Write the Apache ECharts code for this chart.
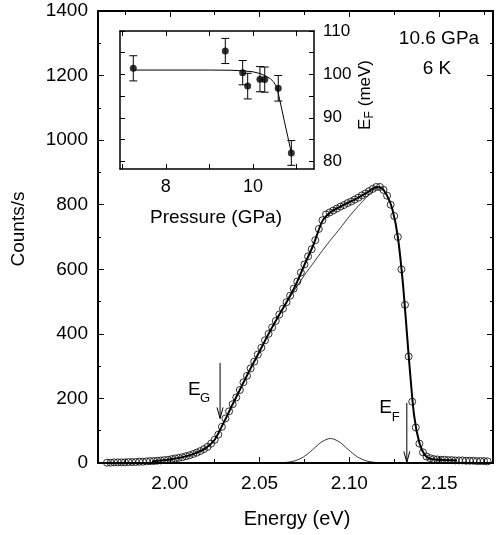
<!DOCTYPE html>
<html><head><meta charset="utf-8">
<script src="https://cdn.jsdelivr.net/npm/echarts@6/dist/echarts.min.js"></script>
<style>html,body{margin:0;padding:0;background:#fff}#c{width:496px;height:535px}</style>
</head><body><div id="c"></div>
<script>
// ---- main spectrum: measured points ----
const energy = [1.965,1.967,1.969,1.971,1.973,1.975,1.977,1.979,1.981,1.983,1.985,1.987,1.989,1.991,1.993,1.995,1.997,1.999,
2.001,2.003,2.005,2.007,2.009,2.011,2.013,2.015,2.017,2.019,2.021,2.023,2.025,2.027,2.029,2.031,2.033,2.035,2.037,2.039,
2.041,2.043,2.045,2.047,2.049,2.051,2.053,2.055,2.057,2.059,2.061,2.063,2.065,2.067,2.069,2.071,2.073,2.075,2.077,2.079,
2.081,2.083,2.085,2.087,2.089,2.091,2.093,2.095,2.097,2.099,2.101,2.103,2.105,2.107,2.109,2.111,2.113,2.115,2.117,2.119,
2.121,2.123,2.125,2.127,2.129,2.131,2.133,2.135,2.137,2.139,2.141,2.143,2.145,2.147,2.149,2.151,2.153,2.155,2.157,2.159,
2.161,2.163,2.165,2.167,2.169,2.171,2.173,2.175,2.177];
const counts = [1,1,2,2,2,2,3,3,3,4,4,5,6,6,7,8,9,10,
12,14,16,18,21,24,28,32,37,43,50,60,72,88,112,138,160,182,203,226,
250,270,293,314,336,357,380,400,420,440,460,478,498,518,540,562,590,615,640,662,
690,725,752,770,776,782,788,794,799,805,810,816,822,829,835,842,849,855,855,846,
828,800,765,700,600,490,330,190,110,60,33,20,15,12,11,10,10,9,9,8,
8,8,7,7,7,6,6,6,5];
// ---- full fit (thick line) ----
const fitEnergy = [1.99,2.0,2.01,2.015,2.02,2.025,2.03,2.035,2.04,2.045,2.05,2.055,2.06,2.065,2.07,2.075,2.08,2.085,2.09,2.095,2.10,2.105,2.11,2.115,2.118,2.121,2.124,2.127,2.130,2.133,2.136,2.139,2.142,2.145,2.15,2.16];
const fitCounts = [5,11,22,32,46,72,125,182,238,293,346,400,450,498,550,614,676,750,779,794,808,822,838,855,852,828,785,700,545,335,150,62,25,13,10,8];
// ---- fit without excitonic term (thin line) ----
const bareEnergy = [2.055,2.06,2.065,2.07,2.075,2.08,2.085,2.09,2.095,2.10,2.105,2.11,2.115,2.118];
const bareCounts = [400,450,497,540,582,620,658,694,728,764,796,826,852,853];
// ---- excitonic Gaussian (thin line) ----
const gaussEnergy = [2.052,2.0595,2.0645,2.0695,2.0745,2.0795,2.0845,2.0895,2.0945,2.0995,2.1045,2.1095,2.1145,2.1195,2.127];
const gaussCounts = [0,0.3,1.6,6.5,19,41,65,76,65,41,19,6.5,1.6,0.3,0];
// ---- arrows E_G, E_F ----
const arrowEnergy = [2.028, 2.132];
const arrowTop = [310, 186];
const arrowTip = [138, 2];
const arrowSub = ['G', 'F'];
// ---- inset: E_F vs pressure ----
const pressure = [7.255, 9.365, 9.764, 9.879, 10.16, 10.27, 10.58, 10.88];
const efValue = [101.4, 105.4, 100.4, 97.3, 98.9, 98.8, 96.8, 81.9];
const efErr = [2.9, 2.9, 2.8, 2.95, 2.9, 2.9, 2.95, 2.85];
const insetFitP = [7.255, 9.0, 9.5, 9.8, 10.0, 10.16, 10.3, 10.4, 10.47, 10.54, 10.58, 10.65, 10.72, 10.8, 10.88];
const insetFitE = [101.0, 101.0, 100.95, 100.8, 100.6, 100.2, 99.6, 99.0, 98.3, 97.2, 95.6, 92.5, 89.2, 85.6, 81.9];
// ---- ticks ----
const xMajor = [2.00, 2.05, 2.10, 2.15];
const xMinor = [1.975, 2.025, 2.075, 2.125, 2.175];
const insetXTicks = [7, 8, 9, 10, 11];
const insetXLabels = [8, 10];
const insetYTicks = [80, 85, 90, 95, 100, 105, 110];
const insetYLabels = [80, 90, 100, 110];

const FONT = '"Liberation Sans", Arial, sans-serif';
const BLACK = '#000';
const zip = (a, b) => a.map((v, i) => [v, b[i]]);

const mainGrid = {left: 98, top: 11, width: 395, height: 452};
const insetGrid = {left: 120, top: 31, width: 194, height: 138, show: true, backgroundColor: '#fff', borderWidth: 0, z: 5};

function xAx(grid, pos, ticks, len, showLine, labels, lw) {
  return {
    type: 'value', gridIndex: grid, position: pos,
    min: grid === 0 ? 1.96 : 6.95, max: grid === 0 ? 2.18 : 11.4,
    axisLine: {show: showLine, onZero: false, lineStyle: {color: BLACK, width: lw}},
    axisTick: {show: true, inside: true, length: len, customValues: ticks, lineStyle: {color: BLACK, width: 1}},
    axisLabel: labels ? {show: true, customValues: labels, color: BLACK, fontFamily: FONT, fontSize: grid === 0 ? 19 : 18, margin: grid === 0 ? 11 : 9,
      formatter: v => grid === 0 ? Number(v).toFixed(2) : String(v)} : {show: false},
    splitLine: {show: false}, z: grid === 1 ? 6 : 2
  };
}

const option = {
  animation: false,
  backgroundColor: '#fff',
  grid: [mainGrid, insetGrid],
  xAxis: [
    xAx(0, 'bottom', xMajor, 6, true, xMajor, 2),
    xAx(0, 'bottom', xMinor, 4, false, null, 2),
    xAx(0, 'top', xMajor, 6, true, null, 2),
    xAx(0, 'top', xMinor, 4, false, null, 2),
    xAx(1, 'bottom', insetXTicks, 5, true, insetXLabels, 1.5),
    xAx(1, 'top', insetXTicks, 5, true, null, 1.5)
  ],
  yAxis: [
    {type: 'value', gridIndex: 0, position: 'left', min: 0, max: 1400, interval: 200,
     axisLine: {show: true, onZero: false, lineStyle: {color: BLACK, width: 2}},
     axisTick: {inside: true, length: 6, lineStyle: {color: BLACK}},
     minorTick: {show: true, splitNumber: 2, length: 3, lineStyle: {color: BLACK}},
     axisLabel: {color: BLACK, fontFamily: FONT, fontSize: 19, margin: 10, formatter: v => String(v)},
     splitLine: {show: false}},
    {type: 'value', gridIndex: 0, position: 'right', min: 0, max: 1400, interval: 200,
     axisLine: {show: true, onZero: false, lineStyle: {color: BLACK, width: 2}},
     axisTick: {inside: true, length: 6, lineStyle: {color: BLACK}},
     minorTick: {show: true, splitNumber: 2, length: 3, lineStyle: {color: BLACK}},
     axisLabel: {show: false}, splitLine: {show: false}},
    {type: 'value', gridIndex: 1, position: 'right', min: 78.2, max: 110,
     axisLine: {show: true, onZero: false, lineStyle: {color: BLACK, width: 1.5}},
     axisTick: {inside: true, length: 5, customValues: insetYTicks, lineStyle: {color: BLACK}},
     axisLabel: {customValues: insetYLabels, color: BLACK, fontFamily: FONT, fontSize: 17, margin: 9, formatter: v => String(v)},
     splitLine: {show: false}, z: 6},
    {type: 'value', gridIndex: 1, position: 'left', min: 78.2, max: 110,
     axisLine: {show: true, onZero: false, lineStyle: {color: BLACK, width: 1.5}},
     axisTick: {inside: true, length: 5, customValues: insetYTicks, lineStyle: {color: BLACK}},
     axisLabel: {show: false}, splitLine: {show: false}, z: 6}
  ],
  series: [
    {type: 'line', name: 'bare', xAxisIndex: 0, yAxisIndex: 0, data: zip(bareEnergy, bareCounts), smooth: 0.2,
     showSymbol: false, lineStyle: {color: BLACK, width: 0.8}, z: 3},
    {type: 'line', name: 'gauss', xAxisIndex: 0, yAxisIndex: 0, data: zip(gaussEnergy, gaussCounts), smooth: 0.3,
     showSymbol: false, lineStyle: {color: BLACK, width: 0.8}, z: 3},
    {type: 'line', name: 'fit', xAxisIndex: 0, yAxisIndex: 0, data: zip(fitEnergy, fitCounts), smooth: 0.25,
     showSymbol: false, lineStyle: {color: BLACK, width: 2}, z: 4},
    {type: 'scatter', name: 'data', xAxisIndex: 0, yAxisIndex: 0, data: zip(energy, counts),
     symbol: 'circle', symbolSize: 7,
     itemStyle: {color: 'rgba(0,0,0,0)', borderColor: BLACK, borderWidth: 1}, z: 4},
    {type: 'custom', name: 'arrows', xAxisIndex: 0, yAxisIndex: 0,
     data: arrowEnergy.map((e, i) => [e, arrowTop[i], arrowTip[i], i]),
     encode: {x: 0, y: [1, 2]},
     renderItem: (params, api) => {
       const x = api.value(0), i = api.value(3);
       const p1 = api.coord([x, api.value(1)]);
       const p2 = api.coord([x, api.value(2)]);
       const lab = i === 0 ? {ex: -32, ey: 27, sx: -20, sy: 36} : {ex: -27.5, ey: 5, sx: -15, sy: 14};
       return {type: 'group', children: [
         {type: 'line', shape: {x1: p1[0], y1: p1[1], x2: p2[0], y2: p2[1]}, style: {stroke: BLACK, lineWidth: 1}},
         {type: 'polyline', shape: {points: [[p2[0] - 3, p2[1] - 11], [p2[0], p2[1]], [p2[0] + 3, p2[1] - 11]]},
          style: {stroke: BLACK, lineWidth: 1, fill: null}},
         {type: 'text', x: p1[0] + lab.ex, y: p1[1] + lab.ey,
          style: {text: 'E', fontFamily: FONT, fontSize: 19, fill: BLACK, textAlign: 'left', textVerticalAlign: 'middle'}},
         {type: 'text', x: p1[0] + lab.sx, y: p1[1] + lab.sy,
          style: {text: arrowSub[i], fontFamily: FONT, fontSize: 13, fill: BLACK, textAlign: 'left', textVerticalAlign: 'middle'}}
       ]};
     }, z: 5},
    {type: 'line', name: 'insetFit', xAxisIndex: 4, yAxisIndex: 2, data: zip(insetFitP, insetFitE),
     showSymbol: false, lineStyle: {color: BLACK, width: 1}, z: 7},
    {type: 'custom', name: 'errbars', xAxisIndex: 4, yAxisIndex: 2,
     data: pressure.map((p, i) => [p, efValue[i] - efErr[i], efValue[i] + efErr[i]]),
     encode: {x: 0, y: [1, 2]},
     renderItem: (params, api) => {
       const x = api.value(0);
       const lo = api.coord([x, api.value(1)]);
       const hi = api.coord([x, api.value(2)]);
       const w = 4;
       return {type: 'group', children: [
         {type: 'line', shape: {x1: hi[0], y1: hi[1], x2: lo[0], y2: lo[1]}, style: {stroke: BLACK, lineWidth: 1}},
         {type: 'line', shape: {x1: hi[0] - w, y1: hi[1], x2: hi[0] + w, y2: hi[1]}, style: {stroke: BLACK, lineWidth: 1}},
         {type: 'line', shape: {x1: lo[0] - w, y1: lo[1], x2: lo[0] + w, y2: lo[1]}, style: {stroke: BLACK, lineWidth: 1}}
       ]};
     }, z: 7},
    {type: 'scatter', name: 'ef', xAxisIndex: 4, yAxisIndex: 2, data: zip(pressure, efValue),
     symbol: 'circle', symbolSize: 7, itemStyle: {color: BLACK}, z: 8}
  ],
  graphic: [
    {type: 'text', x: 439, y: 39, z: 10,
     style: {text: '10.6 GPa', fontFamily: FONT, fontSize: 19, fill: BLACK, textAlign: 'center', textVerticalAlign: 'middle'}},
    {type: 'text', x: 437, y: 69, z: 10,
     style: {text: '6 K', fontFamily: FONT, fontSize: 19, fill: BLACK, textAlign: 'center', textVerticalAlign: 'middle'}},
    {type: 'text', x: 297, y: 519, z: 10,
     style: {text: 'Energy (eV)', fontFamily: FONT, fontSize: 20, fill: BLACK, textAlign: 'center', textVerticalAlign: 'middle'}},
    {type: 'text', x: 19, y: 229, rotation: Math.PI / 2, z: 10,
     style: {text: 'Counts/s', fontFamily: FONT, fontSize: 19, fill: BLACK, textAlign: 'center', textVerticalAlign: 'middle'}},
    {type: 'text', x: 216, y: 218, z: 10,
     style: {text: 'Pressure (GPa)', fontFamily: FONT, fontSize: 19, fill: BLACK, textAlign: 'center', textVerticalAlign: 'middle'}},
    {type: 'group', x: 365, y: 97, rotation: Math.PI / 2, z: 10, children: [
      {type: 'text', x: -33, y: 0, style: {text: 'E', fontFamily: FONT, fontSize: 17, fill: BLACK, textAlign: 'left', textVerticalAlign: 'middle'}},
      {type: 'text', x: -21.5, y: 5, style: {text: 'F', fontFamily: FONT, fontSize: 12, fill: BLACK, textAlign: 'left', textVerticalAlign: 'middle'}},
      {type: 'text', x: -14, y: 0, style: {text: ' (meV)', fontFamily: FONT, fontSize: 17, fill: BLACK, textAlign: 'left', textVerticalAlign: 'middle'}}
    ]}
  ]
};
const chart = echarts.init(document.getElementById('c'), null, {renderer: 'canvas'});
chart.setOption(option);
</script></body></html>
